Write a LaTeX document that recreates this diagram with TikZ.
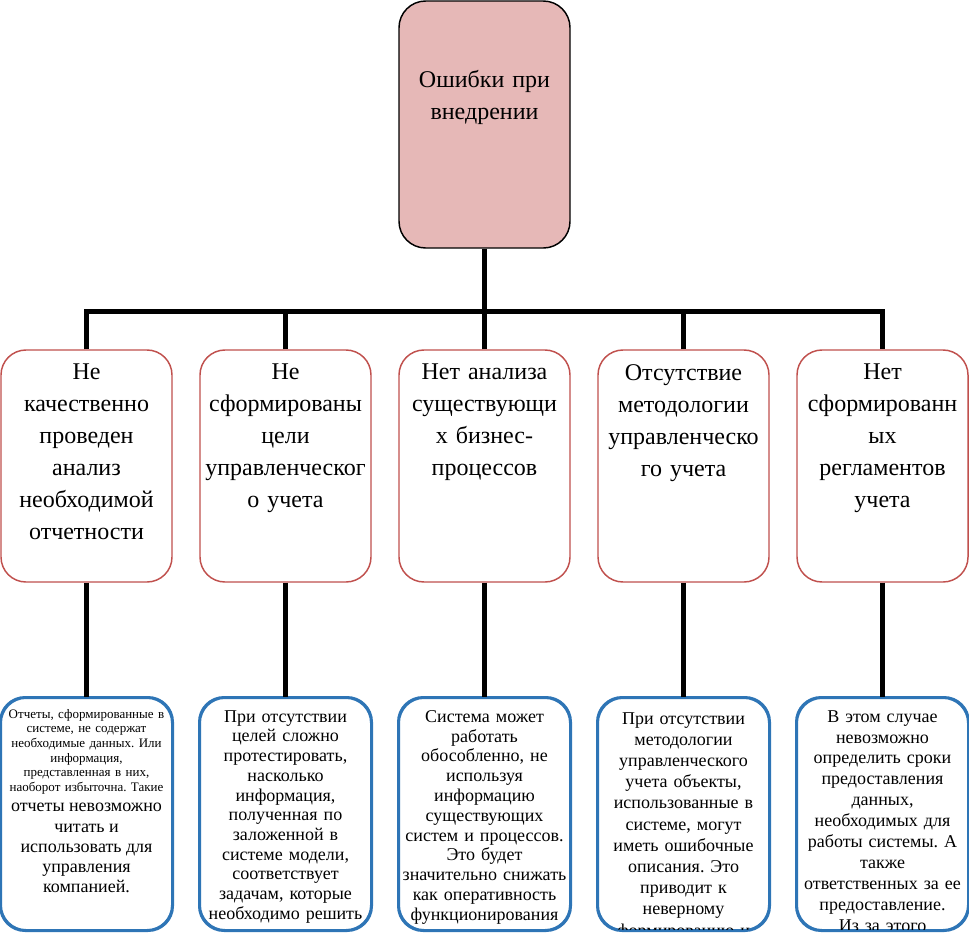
\documentclass[tikz,border=0pt]{standalone}
\usepackage{fontspec}
\setmainfont{Liberation Serif}
\frenchspacing
\definecolor{topfill}{HTML}{E6B8B7}
\definecolor{midborder}{HTML}{C0504D}
\definecolor{botborder}{HTML}{2E75B6}
\begin{document}
\begin{tikzpicture}[x=0.75pt,y=-0.75pt,
  topbox/.style={draw=black, line width=1.1pt, fill=topfill, rounded corners=20pt,
    minimum width=128.25pt, minimum height=185.25pt, inner sep=0pt},
  midbox/.style={draw=midborder, line width=1.1pt, fill=white, rounded corners=18.75pt,
    minimum width=128.25pt, minimum height=174pt, inner sep=0pt},
  botbox/.style={draw=botborder, line width=1.5pt, rounded corners=18.75pt,
    minimum width=128.25pt, minimum height=174pt, inner sep=0pt},
  bigtext/.style={font=\fontsize{18}{24}\selectfont, align=center, text width=135pt, inner sep=0pt, anchor=north},
  smalltext/.style={font=\fontsize{13.5}{#1}\selectfont, align=center, text width=135pt, inner sep=0pt, anchor=north},
  conn/.style={line width=3.75pt, line join=miter, line cap=butt}
]
\useasboundingbox (0,0) rectangle (969,932);
\hyphenpenalty=10000

% top
\node[topbox] (top) at (484.5,124.5) {};
\node[bigtext] (topt) at (484.5,70) {Ошибки при\\внедрении};

% middle boxes
\node[midbox] (m1) at (86.5,466) {};
\node[midbox] (m2) at (285.5,466) {};
\node[midbox] (m3) at (484.5,466) {};
\node[midbox] (m4) at (683.5,466) {};
\node[midbox] (m5) at (882.5,466) {};

\node[bigtext] (m1t) at (86.5,364) {Не\\качественно\\проведен\\анализ\\необходимой\\отчетности};
\node[bigtext] (m2t) at (285.5,364) {Не\\сформированы\\цели\\управленческог\\о учета};
\node[bigtext] (m3t) at (484.5,364) {Нет анализа\\существующи\\х бизнес-\\процессов};
\node[bigtext] (m4t) at (683.5,364) {Отсутствие\\методологии\\управленческо\\го учета};
\node[bigtext] (m5t) at (882.5,364) {Нет\\сформированн\\ых\\регламентов\\учета};

% bottom boxes
\node[botbox, fill=white] (b1) at (86.5,814) {};
\node[botbox, fill=white] (b2) at (285.5,814) {};
\node[botbox, fill=white] (b3) at (484.5,814) {};
\node[botbox, fill=white] (b4) at (683.5,814) {};
\node[botbox, fill=white] (b5) at (882.5,814) {};

\begin{scope}
\clip[rounded corners=18.75pt] (b1.north west) rectangle (b1.south east);
\node[align=center, text width=135pt, inner sep=0pt, anchor=north] (b1t) at (86.5,709)
 {{\fontsize{9.75}{11}\selectfont Отчеты, сформированные в\\системе, не содержат\\необходимые данных. Или\\информация,\\представленная в них,\\наоборот избыточна. Такие\par}
  {\fontsize{13.5}{15.2}\selectfont отчеты невозможно\\читать и\\использовать для\\управления\\компанией.\par}};
\end{scope}
\begin{scope}
\clip[rounded corners=18.75pt] (b2.north west) rectangle (b2.south east);
\node[smalltext=14.8] (b2t) at (285.5,710) {При отсутствии\\целей сложно\\протестировать,\\насколько\\информация,\\полученная по\\заложенной в\\системе модели,\\соответствует\\задачам, которые\\необходимо решить};
\end{scope}
\begin{scope}
\clip[rounded corners=18.75pt] (b3.north west) rectangle (b3.south east);
\node[smalltext=14.85] (b3t) at (484.5,710) {Система может\\работать\\обособленно, не\\используя\\информацию\\существующих\\систем и процессов.\\Это будет\\значительно снижать\\как оперативность\\функционирования};
\end{scope}
\begin{scope}
\clip[rounded corners=18.75pt] (b4.north west) rectangle (b4.south east);
\node[smalltext=15.9] (b4t) at (683.5,712) {При отсутствии\\методологии\\управленческого\\учета объекты,\\использованные в\\системе, могут\\иметь ошибочные\\описания. Это\\приводит к\\неверному\\формированию и};
\end{scope}
\begin{scope}
\clip[rounded corners=18.75pt] (b5.north west) rectangle (b5.south east);
\node[smalltext=15.7] (b5t) at (882.5,710) {В этом случае\\невозможно\\определить сроки\\предоставления\\данных,\\необходимых для\\работы системы. А\\также\\ответственных за ее\\предоставление.\\Из за этого};
\end{scope}
% redraw borders over clipped text
\foreach \n in {b1,b2,b3,b4,b5}{
  \draw[draw=botborder, line width=1.5pt, rounded corners=18.75pt] (\n.north west) rectangle (\n.south east);
}

% connectors
\coordinate (busC) at (484.5,311);
\draw[conn] (top.south) -- (busC);
\draw[conn] (m1.north) -- (m1.north |- busC) -- (m5.north |- busC) -- (m5.north);
\draw[conn] (m2.north) -- (m2.north |- busC);
\draw[conn] (m3.north) -- (m3.north |- busC);
\draw[conn] (m4.north) -- (m4.north |- busC);
\foreach \i in {1,...,5}{
  \draw[conn] (m\i.south) -- (b\i.north);
}
\end{tikzpicture}
\end{document}
